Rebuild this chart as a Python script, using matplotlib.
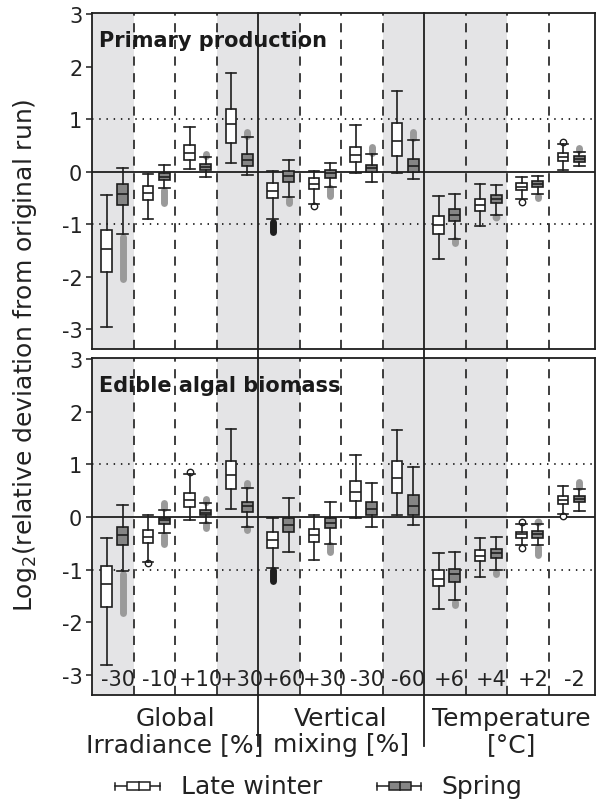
import matplotlib
matplotlib.use("Agg")
import matplotlib.pyplot as plt
from matplotlib.lines import Line2D
from matplotlib.patches import Rectangle
import matplotlib.transforms as mtransforms

plt.rcParams['font.family'] = ['DejaVu Sans']
plt.rcParams['axes.unicode_minus'] = False

# ---- scenario layout -------------------------------------------------------
scenario_labels = ["-30", "-10", "+10", "+30", "+60", "+30", "-30", "-60",
                   "+6", "+4", "+2", "-2"]
driver_labels = ["Global\nIrradiance [%]", "Vertical\nmixing [%]",
                 "Temperature\n[°C]"]
shaded_groups = [0, 3, 4, 7, 8, 9]
series_names = ["Late winter", "Spring"]

# ---- Primary production: box statistics (whislo, q1, med, q3, whishi) -----
pp_winter_whislo = [-2.96, -0.91, 0.04, 0.16, -0.91, -0.61, -0.03, -0.02, -1.66, -1.04, -0.53, 0.03]
pp_winter_q1     = [-1.92, -0.54, 0.22, 0.54, -0.51, -0.33, 0.19, 0.30, -1.18, -0.75, -0.36, 0.20]
pp_winter_med    = [-1.47, -0.40, 0.35, 0.91, -0.37, -0.23, 0.31, 0.59, -1.01, -0.63, -0.29, 0.28]
pp_winter_q3     = [-1.12, -0.27, 0.50, 1.19, -0.22, -0.13, 0.47, 0.93, -0.84, -0.53, -0.22, 0.35]
pp_winter_whishi = [-0.45, -0.05, 0.84, 1.87, 0.01, 0.01, 0.89, 1.53, -0.47, -0.24, -0.10, 0.52]
pp_winter_out = [[], [], [], [], [(-1.15, -0.96)], [(-0.66, -0.66)], [], [], [], [],
                 [(-0.58, -0.58)], [(0.56, 0.56)]]

pp_spring_whislo = [-1.19, -0.32, -0.10, -0.06, -0.49, -0.29, -0.20, -0.15, -1.28, -0.83, -0.43, 0.10]
pp_spring_q1     = [-0.63, -0.16, 0.03, 0.11, -0.19, -0.12, 0.00, 0.00, -0.95, -0.59, -0.29, 0.19]
pp_spring_med    = [-0.43, -0.10, 0.09, 0.22, -0.08, -0.03, 0.06, 0.10, -0.83, -0.52, -0.23, 0.24]
pp_spring_q3     = [-0.23, -0.03, 0.14, 0.33, 0.01, 0.03, 0.13, 0.24, -0.72, -0.45, -0.18, 0.29]
pp_spring_whishi = [0.06, 0.13, 0.27, 0.65, 0.22, 0.17, 0.33, 0.61, -0.42, -0.26, -0.08, 0.38]
pp_spring_out = [[(-2.05, -1.24)], [(-0.60, -0.35)], [(0.30, 0.33)], [(0.68, 0.76)],
                 [(-0.60, -0.52)], [(-0.47, -0.32)], [(0.36, 0.46)], [(0.64, 0.75)],
                 [(-1.36, -1.31)], [(-0.87, -0.86)], [(-0.51, -0.46)], [(0.41, 0.45)]]

# ---- Edible algal biomass: box statistics --------------------------------
eb_winter_whislo = [-2.81, -0.85, -0.06, 0.16, -0.96, -0.82, -0.01, 0.03, -1.74, -1.14, -0.53, 0.05]
eb_winter_q1     = [-1.70, -0.49, 0.19, 0.53, -0.58, -0.48, 0.30, 0.45, -1.31, -0.83, -0.40, 0.24]
eb_winter_med    = [-1.28, -0.37, 0.33, 0.79, -0.43, -0.34, 0.48, 0.75, -1.17, -0.74, -0.33, 0.33]
eb_winter_q3     = [-0.93, -0.24, 0.45, 1.06, -0.29, -0.22, 0.69, 1.07, -1.01, -0.63, -0.28, 0.40]
eb_winter_whishi = [-0.40, 0.04, 0.82, 1.67, -0.02, 0.03, 1.17, 1.65, -0.69, -0.40, -0.13, 0.59]
eb_winter_out = [[], [(-0.88, -0.88)], [(0.86, 0.86)], [], [(-1.22, -1.00)], [], [], [],
                 [], [], [(-0.10, -0.10), (-0.58, -0.58)], [(0.02, 0.02)]]

eb_spring_whislo = [-1.03, -0.31, -0.11, -0.18, -0.67, -0.51, -0.19, -0.16, -1.58, -1.01, -0.54, 0.12]
eb_spring_q1     = [-0.53, -0.14, 0.03, 0.10, -0.29, -0.21, 0.03, 0.03, -1.24, -0.78, -0.40, 0.28]
eb_spring_med    = [-0.34, -0.06, 0.08, 0.21, -0.15, -0.11, 0.15, 0.21, -1.09, -0.69, -0.33, 0.34]
eb_spring_q3     = [-0.18, -0.01, 0.13, 0.29, -0.02, -0.01, 0.28, 0.42, -0.98, -0.61, -0.27, 0.40]
eb_spring_whishi = [0.22, 0.14, 0.26, 0.56, 0.37, 0.29, 0.64, 0.95, -0.67, -0.37, -0.13, 0.54]
eb_spring_out = [[(-1.83, -1.08)], [(0.17, 0.27), (-0.52, -0.34)], [(0.29, 0.35), (-0.21, -0.14)],
                 [(0.59, 0.65), (-0.25, -0.21)], [], [(-0.67, -0.54)], [], [],
                 [(-1.68, -1.61)], [(-1.09, -1.04)], [(-0.09, -0.09), (-0.72, -0.57)],
                 [(0.57, 0.67)]]

# ---- styling ---------------------------------------------------------------
INK = "#1e1e1e"
SHADE = "#e4e4e6"
WINTER_FACE = "white"
SPRING_FACE = "#858585"
SPRING_OUT = "#9a9a9a"
XMAX = 12.12
YLIM = (-3.38, 3.02)
W_OFF, S_OFF, BW = 0.35, 0.74, 0.26

FIG_W, FIG_H = 599, 803
fig = plt.figure(figsize=(FIG_W / 100, FIG_H / 100), dpi=100)


def fx(px):
    return px / FIG_W


def fy(py):
    return 1 - py / FIG_H


ax_left, ax_right = 92, 595
ax1 = fig.add_axes([fx(ax_left), fy(350), fx(ax_right - ax_left), (350 - 14) / FIG_H])
ax2 = fig.add_axes([fx(ax_left), fy(696), fx(ax_right - ax_left), (696 - 359) / FIG_H])


def make_stats(lo, q1, med, q3, hi):
    return [dict(whislo=a, q1=b, med=c, q3=d, whishi=e, fliers=[])
            for a, b, c, d, e in zip(lo, q1, med, q3, hi)]


def draw_outliers(ax, positions, outs, face, edge, filled):
    for x, ranges in zip(positions, outs):
        for lo, hi in ranges:
            if hi - lo < 0.015:
                ax.plot(x, lo, "o", ms=4.6, mec=edge,
                        mfc=face if filled else "white", mew=1.0, zorder=2.6)
            else:
                ax.plot([x, x], [lo, hi], color=face, lw=5,
                        solid_capstyle="round", zorder=2.6)


def style_panel(ax, title, winter, spring, w_out, s_out):
    ax.set_xlim(0, XMAX)
    ax.set_ylim(*YLIM)
    for g in shaded_groups:
        ax.axvspan(g, g + 1, color=SHADE, lw=0, zorder=0)
    ax.axhline(0, color=INK, lw=1.3, zorder=1.5)
    for yv in (1, -1):
        ax.axhline(yv, color=INK, lw=1.3, ls=(0, (0.8, 3.2)), zorder=1.5)
    for k in range(1, 12):
        if k % 4 != 0:
            ax.axvline(k, color=INK, lw=1.2, ls=(0, (5.5, 4.5)), zorder=1.5)

    groups = range(len(scenario_labels))
    pos_w = [g + W_OFF for g in groups]
    pos_s = [g + S_OFF for g in groups]

    draw_outliers(ax, pos_w, w_out, INK, INK, False)
    draw_outliers(ax, pos_s, s_out, SPRING_OUT, SPRING_OUT, True)

    common = dict(widths=BW, capwidths=BW, patch_artist=True, showfliers=False,
                  manage_ticks=False, zorder=3,
                  whiskerprops=dict(color=INK, lw=1.2),
                  capprops=dict(color=INK, lw=1.2),
                  medianprops=dict(color=INK, lw=1.2))
    ax.bxp(make_stats(*winter), positions=pos_w,
           boxprops=dict(facecolor=WINTER_FACE, edgecolor=INK, lw=1.2), **common)
    ax.bxp(make_stats(*spring), positions=pos_s,
           boxprops=dict(facecolor=SPRING_FACE, edgecolor=INK, lw=1.2), **common)

    ax.set_xticks([])
    ax.set_yticks([3, 2, 1, 0, -1, -2, -3])
    ax.tick_params(axis="y", direction="out", length=4, width=1.1, color=INK,
                   labelsize=15, pad=3, labelcolor="#222222")
    for sp in ax.spines.values():
        sp.set_color(INK)
        sp.set_linewidth(1.3)
    ax.text(0.013, 0.92, title, transform=ax.transAxes, fontsize=15,
            fontweight="bold", color="#1a1a1a", ha="left", va="center", zorder=4)


style_panel(ax1, "Primary production",
            (pp_winter_whislo, pp_winter_q1, pp_winter_med, pp_winter_q3, pp_winter_whishi),
            (pp_spring_whislo, pp_spring_q1, pp_spring_med, pp_spring_q3, pp_spring_whishi),
            pp_winter_out, pp_spring_out)
style_panel(ax2, "Edible algal biomass",
            (eb_winter_whislo, eb_winter_q1, eb_winter_med, eb_winter_q3, eb_winter_whishi),
            (eb_spring_whislo, eb_spring_q1, eb_spring_med, eb_spring_q3, eb_spring_whishi),
            eb_winter_out, eb_spring_out)

# scenario labels along the bottom of the lower panel
for g, lab in enumerate(scenario_labels):
    ax2.text(g + 0.62, -3.08, lab, fontsize=15, ha="center", va="center",
             color="#222222", zorder=4)

# solid separators between drivers, running through both panels
sep_tr = mtransforms.blended_transform_factory(ax1.transData, fig.transFigure)
for k in (4, 8):
    fig.add_artist(Line2D([k, k], [fy(14), fy(747)], transform=sep_tr,
                          color=INK, lw=1.3, zorder=5))

# driver names under the panels
lab_tr = mtransforms.blended_transform_factory(ax2.transData, fig.transFigure)
for k, lab in enumerate(driver_labels):
    ax2.text(4 * k + 2 + (0.1 if k == 2 else 0), fy(732), lab, transform=lab_tr,
             fontsize=18, ha="center", va="center", linespacing=1.1,
             color="#222222")

# y axis title
fig.text(fx(25), fy(355), r"Log$_2$(relative deviation from original run)",
         rotation=90, fontsize=18, ha="center", va="center", color="#222222")

# legend
leg = fig.add_axes([0, 0, 1, 1], zorder=-1)
leg.set_xlim(0, FIG_W)
leg.set_ylim(FIG_H, 0)
leg.axis("off")
legend_items = [(115, 160, WINTER_FACE, 181), (377, 421, SPRING_FACE, 441)]
ly = 787
for (x0, x1, face, tx), name in zip(legend_items, series_names):
    leg.plot([x0, x1], [ly, ly], color=INK, lw=1.1)
    leg.plot([x0, x0], [ly - 3.5, ly + 3.5], color=INK, lw=1.1)
    leg.plot([x1, x1], [ly - 3.5, ly + 3.5], color=INK, lw=1.1)
    bx0, bx1 = x0 + 12, x1 - 10
    leg.add_patch(Rectangle((bx0, ly - 4), bx1 - bx0, 8, facecolor=face,
                            edgecolor=INK, lw=1.1, zorder=3))
    mid = (bx0 + bx1) / 2
    leg.plot([mid, mid], [ly - 4, ly + 4], color=INK, lw=1.1, zorder=4)
    leg.text(tx, ly, name, fontsize=18, ha="left", va="center", color="#222222")

fig.savefig("out.png", dpi=100)
